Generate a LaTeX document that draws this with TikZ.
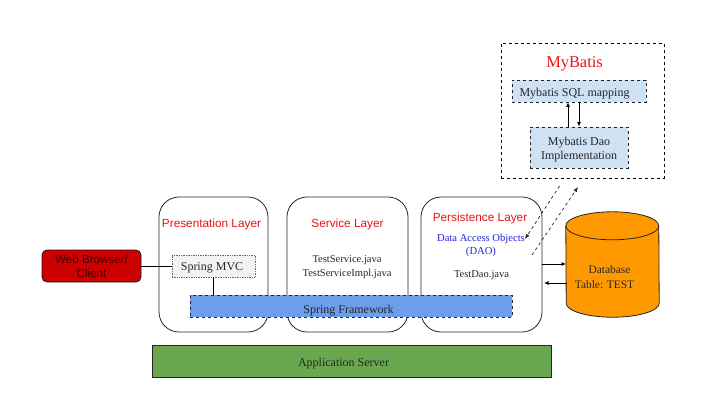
\documentclass[tikz,border=0pt]{standalone}
\usepackage{xcolor}
\usepackage{fontspec}
\setmainfont{Liberation Serif}
\setsansfont{Liberation Sans}
\usepackage{tikz}
\usetikzlibrary{positioning, arrows.meta}

\definecolor{browserred}{HTML}{CC0000}
\definecolor{mvcgray}{HTML}{F3F3F3}
\definecolor{springblue}{HTML}{6D9EEB}
\definecolor{servergreen}{HTML}{6AA84F}
\definecolor{mapblue}{HTML}{CFE2F3}
\definecolor{dborange}{HTML}{FF9900}
\definecolor{titlered}{HTML}{EE1111}
\definecolor{daoblue}{HTML}{2222DD}

\begin{document}
\begin{tikzpicture}[
    x=1pt, y=-1pt,
    every node/.style={inner sep=0pt, align=center, font=\fontsize{12}{14.5}\selectfont, text=black!85},
    layerbox/.style={draw=black!85, line width=0.8pt, rounded corners=20pt, minimum height=135pt},
    layertitle/.style={font=\sffamily\fontsize{11.8}{14}\selectfont, text=titlered},
    filetext/.style={font=\fontsize{10.5}{14}\selectfont},
    mapbox/.style={draw=black!85, dashed, line width=0.8pt, fill=mapblue},
    conn/.style={draw=black, line width=0.8pt},
    flow/.style={conn, -{Latex[length=4.5pt,width=4pt]}},
    daoflow/.style={draw=black!85, dashed, line width=0.7pt, -{Latex[length=5pt,width=4pt]}}
]
\useasboundingbox (0,0) rectangle (723,410);

\node[draw=black!85, line width=0.8pt, fill=servergreen, minimum width=399pt, minimum height=32pt] (server) at (351.5,361) {};
\node (serverlabel) at (343.5,363.5) {Application Server};

\node[layerbox, minimum width=109pt] (presentation) at (213.5,264.5) {};
\node[layerbox, minimum width=121pt] (service) at (347.5,264.5) {};
\node[layerbox, minimum width=121pt] (persistence) at (481.5,264.5) {};

\node[layertitle] (presentationtitle) at (211.5,224) {Presentation Layer};
\node[layertitle] (servicetitle) at (347.5,224.5) {Service Layer};
\node[layertitle] (persistencetitle) at (480,218.5) {Persistence Layer};

\node[draw=black!60, densely dotted, line width=0.7pt, fill=mvcgray, minimum width=83pt, minimum height=22pt] (mvc) at (213.5,266) {};
\node (mvclabel) at (212,268) {Spring MVC};
\node[draw=black!90, rounded corners=5pt, line width=0.8pt, fill=browserred, minimum width=99pt, minimum height=32pt, font=\sffamily\fontsize{11.6}{14}\selectfont, text=black!70!browserred] (browser) at (91.5,266) {Web Browser/\\Client};
\node[draw=black!85, dashed, line width=0.8pt, fill=springblue, minimum width=322pt, minimum height=22pt] (spring) at (351,306) {};
\node (springlabel) at (348.5,310.5) {Spring Framework};

\node[filetext] (servicefiles) at (347,267.5) {TestService.java\\TestServiceImpl.java};
\node[text=daoblue, font=\fontsize{10.6}{13.5}\selectfont] (dao) at (481,245.5) {Data Access Objects\\(DAO)};
\node[filetext] (testdao) at (481.5,275.5) {TestDao.java};

% plain node, the barrel is drawn round it
\node[minimum width=93pt, minimum height=105pt] (database) at (612.5,264.5) {};
\draw[draw=black!85, line width=0.8pt, fill=dborange]
    ([yshift=-14pt]database.north west) arc[x radius=46.5pt, y radius=14pt, start angle=180, end angle=0]
    -- ([yshift=14pt]database.south east) arc[x radius=46.5pt, y radius=14pt, start angle=0, end angle=-180] -- cycle;
\draw[draw=black!85, line width=0.8pt]
    ([yshift=-14pt]database.north west) arc[x radius=46.5pt, y radius=14pt, start angle=180, end angle=360];
\node[font=\fontsize{11.4}{15}\selectfont] (databaselabel) at (604.5,277) {\hspace*{10pt}Database\\Table: TEST};

\node[draw=black, dashed, line width=0.8pt, minimum width=163pt, minimum height=135pt] (mybatis) at (582.5,110.5) {};
\node[text=titlered, font=\fontsize{16.4}{18}\selectfont] (mybatistitle) at (574.5,63.5) {MyBatis};
\node[mapbox, minimum width=134pt, minimum height=22pt] (mapping) at (579,91) {};
\node (mappinglabel) at (574.5,94) {Mybatis SQL mapping};
\node[mapbox, minimum width=98pt, minimum height=41pt] (daoimpl) at (579,147.5) {};
\node (daoimpllabel) at (579,149.5) {Mybatis Dao\\Implementation};

\coordinate (mapup) at (568,127);
\coordinate (mapdown) at (579,102);
\coordinate (dbin) at (566,264);
\coordinate (dbout) at (566.5,283);
\coordinate (dbend) at (544,283);
\coordinate (daotop) at (559.5,186);
\coordinate (daoend) at (525,239);
\coordinate (daostart) at (532,255);
\coordinate (mybatisend) at (578,187);
\coordinate (springdrop) at (213,295);

\draw[conn] (browser.east) -- (mvc.west);
\draw[conn] (springdrop |- mvc.south) -- (springdrop);
\draw[flow] (mapup) -- (mapup |- mapping.south);
\draw[flow] (mapdown) -- (mapdown |- daoimpl.north);
\draw[flow] (persistence.east |- dbin) -- (dbin);
\draw[flow] (dbout) -- (dbend);
\draw[daoflow] (daotop) -- (daoend);
\draw[daoflow] (daostart) -- (mybatisend);
\end{tikzpicture}
\end{document}
